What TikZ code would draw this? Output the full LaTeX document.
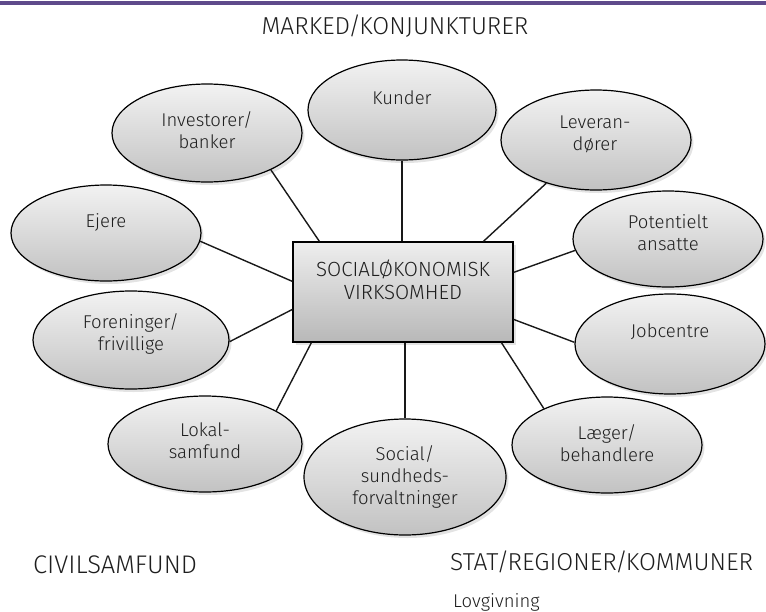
\documentclass[tikz,border=0pt]{standalone}
\usepackage{fontspec}
\IfFontExistsTF{Fira Sans Light}{\setmainfont{Fira Sans Light}}{\setmainfont{Fira Sans}}
\usetikzlibrary{shapes.geometric,shadows,calc}
\definecolor{bar}{RGB}{95,74,139}
\definecolor{txt}{RGB}{30,30,30}
\definecolor{etop}{RGB}{242,242,242}
\definecolor{ebot}{RGB}{194,194,194}
\definecolor{btop}{RGB}{238,238,238}
\definecolor{bbot}{RGB}{184,184,184}
\newcommand{\tsl}{\kern-1.8pt/\kern-1.8pt}
\begin{document}
\begin{tikzpicture}[x=1pt,y=-1pt,
  party/.style={ellipse, draw=black, line width=1.2pt, top color=etop, bottom color=ebot,
    inner sep=0pt, drop shadow={shadow xshift=2.5pt, shadow yshift=-3pt, opacity=0.22}},
  ptext/.style={text=txt, font=\fontsize{18.5}{22}\selectfont, align=center, inner sep=0pt},
  hub/.style={rectangle, draw=black, line width=1.2pt, top color=btop, bottom color=bbot,
    minimum width=220pt, minimum height=100pt, inner sep=0pt,
    drop shadow={shadow xshift=2.5pt, shadow yshift=-3pt, opacity=0.22}},
  hubtext/.style={text=txt, font=\fontsize{20.5}{23}\selectfont, align=center, inner sep=0pt},
  link/.style={line width=1.4pt, draw=black!90},
  header/.style={text=txt, font=\fontsize{24.5}{27}\selectfont, inner sep=0pt},
  small/.style={text=txt, font=\fontsize{18.5}{22}\selectfont, inner sep=0pt}
]
\useasboundingbox (0,0) rectangle (766,611);
\fill[bar] (0,0.5) rectangle (766,4.5);

\node[header] (marked) at (395,26) {MARKED\tsl KONJUNKTURER};
\node[header, anchor=west, font=\fontsize{25.5}{27}\selectfont] (civil) at (33,565) {CIVILSAMFUND};
\node[header, anchor=west] (stat) at (450,562) {STAT\tsl REGIONER\tsl KOMMUNER};
\node[small, anchor=west] (lov) at (453,602) {Lovgivning};

% hub
\node[hub] (hub) at (403,292) {};
\node[hubtext] (hubT) at (403,280) {SOCIALØKONOMISK\\VIRKSOMHED};

% parties
\node[party, minimum width=188pt, minimum height=100pt] (kun) at (402,110) {};
\node[ptext] (kunT) at (402,98) {Kunder};

\node[party, minimum width=190pt, minimum height=98pt] (inv) at (207,133) {};
\node[ptext] (invT) at (207,130) {Investorer/\\banker};

\node[party, minimum width=190pt, minimum height=100pt] (lev) at (596,140) {};
\node[ptext] (levT) at (595,134) {Leveran-\\dører};

\node[party, minimum width=190pt, minimum height=96pt] (eje) at (106,233) {};
\node[ptext] (ejeT) at (106,222) {Ejere};

\node[party, minimum width=190pt, minimum height=96pt] (pot) at (668,239) {};
\node[ptext] (potT) at (668,233) {Potentielt\\ansatte};

\node[party, minimum width=196pt, minimum height=98pt] (for) at (131,340) {};
\node[ptext] (forT) at (131,334) {Foreninger/\\frivillige};

\node[party, minimum width=190pt, minimum height=100pt] (job) at (670,344) {};
\node[ptext] (jobT) at (670,332) {Jobcentre};

\node[party, minimum width=194pt, minimum height=96pt] (lok) at (205,444) {};
\node[ptext] (lokT) at (205,441) {Lokal-\\samfund};

\node[party, minimum width=202pt, minimum height=116pt] (soc) at (405,477) {};
\node[ptext] (socT) at (405,477) {Social/\\sundheds-\\forvaltninger};

\node[party, minimum width=190pt, minimum height=96pt] (lae) at (607,445) {};
\node[ptext] (laeT) at (607,443) {Læger/\\behandlere};

% connectors
\draw[link] (kun.south) -- (kun.south |- hub.north);
\draw[link] ($(hub.north west)+(27,0)$) -- (inv.-30);
\draw[link] ($(hub.north west)+(191,0)$) -- (lev.-139);
\draw[link] ($(hub.north west)+(0,40)$) -- (eje.-5);
\draw[link] ($(hub.north west)+(0,68)$) -- (for.-1);
\draw[link] ($(hub.north east)+(0,31)$) -- (pot.187);
\draw[link] ($(hub.north east)+(0,78)$) -- (job.179);
\draw[link] ($(hub.south west)+(19,0)$) -- (lok.25);
\draw[link] ($(hub.south west)+(209,0)$) -- (lae.150);
\draw[link] (hub.south -| soc.north) -- (soc.north);
\end{tikzpicture}
\end{document}
